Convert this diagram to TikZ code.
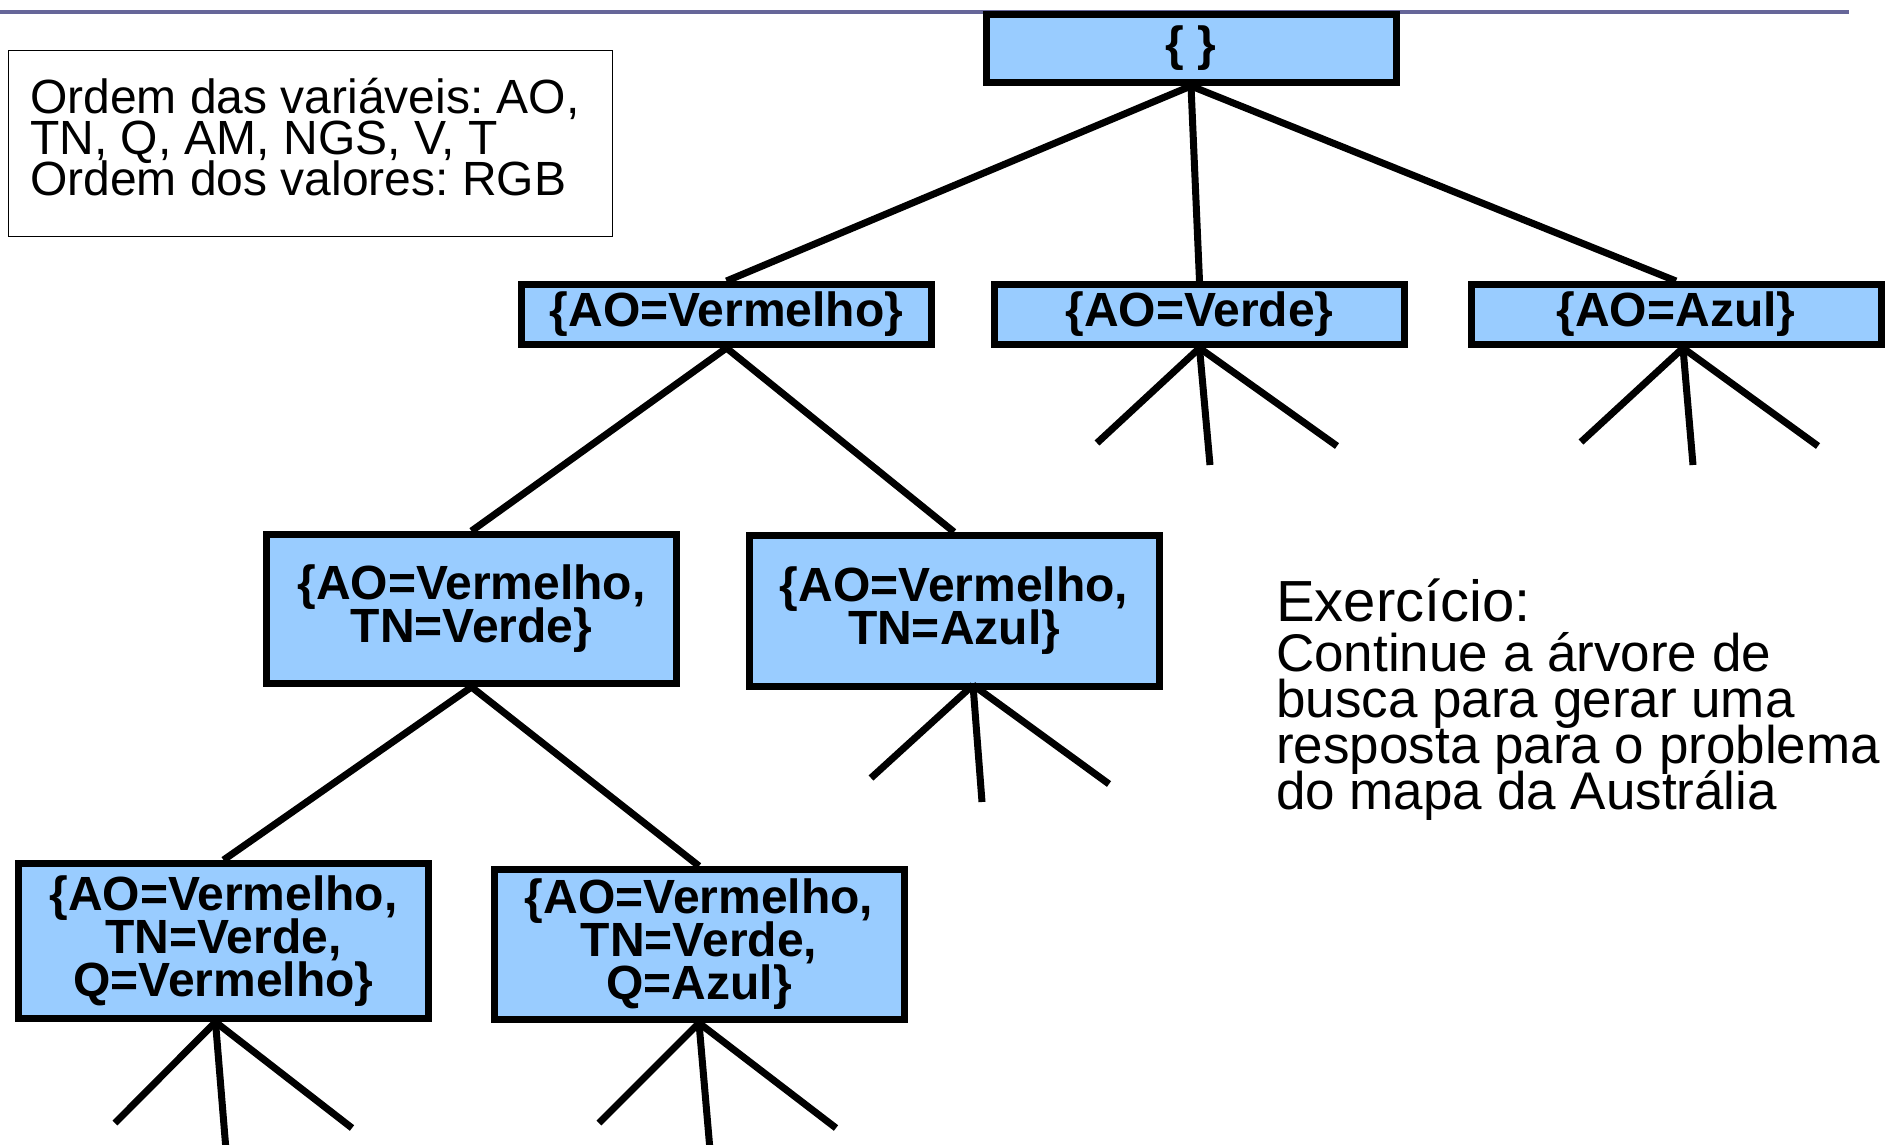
\documentclass[tikz,border=0pt]{standalone}
\usepackage{fontspec}
\setmainfont{Liberation Sans}
\usetikzlibrary{calc}
\definecolor{boxfill}{HTML}{99CCFF}
\definecolor{rulecol}{HTML}{666699}
\begin{document}
\frenchspacing
\setlength{\lineskiplimit}{-200pt}
\begin{tikzpicture}[x=1pt,y=-1pt,
  state/.style={draw=black, line width=7pt, fill=boxfill, minimum width=410pt, inner sep=0pt, align=center, font=\fontsize{48}{43}\selectfont\bfseries},
  edge/.style={line width=7pt, black},
  infobox/.style={draw=black, line width=1.5pt, minimum width=604pt, minimum height=186pt, inner sep=0pt},
  infotext/.style={anchor=base west, inner sep=0pt, align=left, font=\fontsize{48}{41}\selectfont},
  note/.style={anchor=base west, inner sep=0pt, align=left, font=\fontsize{53}{46}\selectfont}]
\useasboundingbox (0,0) rectangle (1897,1144);
\draw[rulecol, line width=4pt] (0,12) -- (1849,12);

\node[state, minimum height=68pt] (root) at (1191,48.5) {\{ \}};
\node[state, minimum height=60pt] (v) at (726.5,314.5) {\{AO=Vermelho\}};
\node[state, minimum height=60pt] (g) at (1199.5,314.5) {\{AO=Verde\}};
\node[state, minimum height=60pt] (b) at (1676,314.5) {\{AO=Azul\}};
\node[state, minimum height=149pt] (vg) at (471.5,609) {\{AO=Vermelho,\\TN=Verde\}};
\node[state, minimum height=151pt] (vb) at (954,611) {\{AO=Vermelho,\\TN=Azul\}};
\node[state, minimum height=155pt] (vgv) at (223.5,941) {\{AO=Vermelho,\\TN=Verde,\\Q=Vermelho\}};
\node[state, minimum height=150pt] (vga) at (699,944.5) {\{AO=Vermelho,\\TN=Verde,\\Q=Azul\}};

\node[infobox] (info) at (310.5,143.5) {};
\node[infotext] (infot) at (30,195) {Ordem das variáveis: AO,\\TN, Q, AM, NGS, V, T\\Ordem dos valores: RGB};
\node[note] (ex) at (1276,809) {{\fontsize{58}{46}\selectfont Exercício:}\\[4pt]Continue a árvore de\\busca para gerar uma\\resposta para o problema\\do mapa da Austrália};

\draw[edge] (root.south) -- (v.north);
\draw[edge] (root.south) -- (g.north);
\draw[edge] (root.south) -- (b.north);
\draw[edge] (v.south) -- (vg.north);
\draw[edge] (v.south) -- (vb.north);
\draw[edge] (vg.south) -- (vgv.north);
\draw[edge] (vg.south) -- (vga.north);

% stub origins and free ends
\coordinate (go) at (g.south);
\coordinate (bo) at ($(b.south)+(7,0)$);
\coordinate (vbo) at ($(vb.south)+(19,-5)$);
\coordinate (vgvo) at ($(vgv.south)+(-8,0)$);
\coordinate (vgao) at (vga.south);

\coordinate (g1) at (1097,443); \coordinate (g2) at (1210,465); \coordinate (g3) at (1337,446);
\coordinate (b1) at (1581,442); \coordinate (b2) at (1693,465); \coordinate (b3) at (1818,446);
\coordinate (vb1) at (871,778); \coordinate (vb2) at (982,802); \coordinate (vb3) at (1109,784);
\coordinate (vgv1) at (115,1123); \coordinate (vgv2) at (226,1150); \coordinate (vgv3) at (352,1128);
\coordinate (vga1) at (599,1123); \coordinate (vga2) at (710,1150); \coordinate (vga3) at (836,1128);

\foreach \o/\e in {go/g1,go/g2,go/g3,bo/b1,bo/b2,bo/b3,vbo/vb1,vbo/vb2,vbo/vb3,vgvo/vgv1,vgvo/vgv2,vgvo/vgv3,vgao/vga1,vgao/vga2,vgao/vga3}
  \draw[edge] (\o) -- (\e);
\end{tikzpicture}
\end{document}
